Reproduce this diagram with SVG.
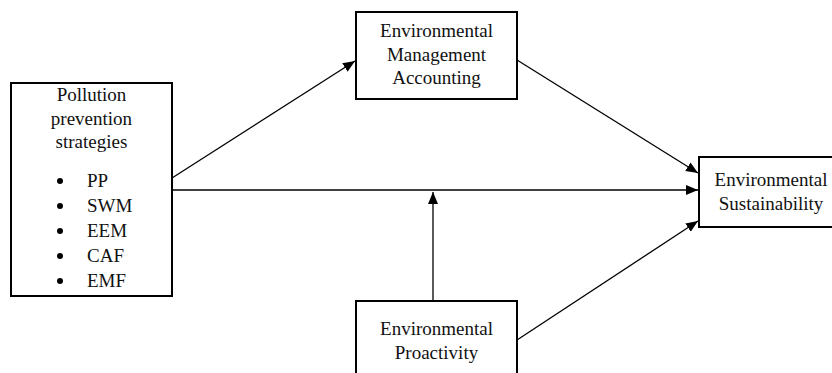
<svg xmlns="http://www.w3.org/2000/svg" width="832" height="373" viewBox="0 0 832 373">
<style>
.box{fill:#fff;stroke:#000;stroke-width:2}
.t{font-family:"Liberation Serif","Times New Roman",serif;font-size:19px;fill:#111;text-anchor:middle}
.tl{font-family:"Liberation Serif","Times New Roman",serif;font-size:19px;fill:#111}
.c{stroke:#000;stroke-width:1.3;fill:none;marker-end:url(#ah)}
</style>
<defs>
<marker id="ah" viewBox="0 0 12 10" refX="12" refY="5" markerWidth="12" markerHeight="10" markerUnits="userSpaceOnUse" orient="auto">
<path d="M0,0 L12,5 L0,10 Z" fill="#000"/>
</marker>
</defs>
<rect width="832" height="373" fill="#fff"/>
<g id="connectors">
<line class="c" x1="172" y1="178" x2="355" y2="61"/>
<line class="c" x1="172" y1="190" x2="698" y2="190"/>
<line class="c" x1="517" y1="60" x2="698" y2="173"/>
<line class="c" x1="517" y1="340" x2="698" y2="221"/>
<line class="c" x1="433" y1="301" x2="433" y2="192"/>
</g>
<g id="pollution">
<rect class="box" x="11" y="83" width="161" height="213"/>
<text class="t" x="91.5" y="101">Pollution</text>
<text class="t" x="91.5" y="125">prevention</text>
<text class="t" x="91.5" y="148">strategies</text>
<g>
<circle cx="60" cy="181" r="3"/>
<circle cx="60" cy="206" r="3"/>
<circle cx="60" cy="231" r="3"/>
<circle cx="60" cy="256" r="3"/>
<circle cx="60" cy="281" r="3"/>
</g>
<text class="tl" x="87" y="187">PP</text>
<text class="tl" x="87" y="212">SWM</text>
<text class="tl" x="87" y="237">EEM</text>
<text class="tl" x="87" y="262">CAF</text>
<text class="tl" x="87" y="287">EMF</text>
</g>
<g id="ema">
<rect class="box" x="356" y="12" width="161" height="87"/>
<text class="t" x="436.5" y="37">Environmental</text>
<text class="t" x="436.5" y="61">Management</text>
<text class="t" x="436.5" y="84">Accounting</text>
</g>
<g id="sustainability">
<rect class="box" x="699" y="157" width="150" height="70"/>
<text class="t" x="771" y="186">Environmental</text>
<text class="t" x="771" y="210">Sustainability</text>
</g>
<g id="proactivity">
<rect class="box" x="356" y="301" width="161" height="90"/>
<text class="t" x="436.5" y="335">Environmental</text>
<text class="t" x="436.5" y="359">Proactivity</text>
</g>
</svg>
